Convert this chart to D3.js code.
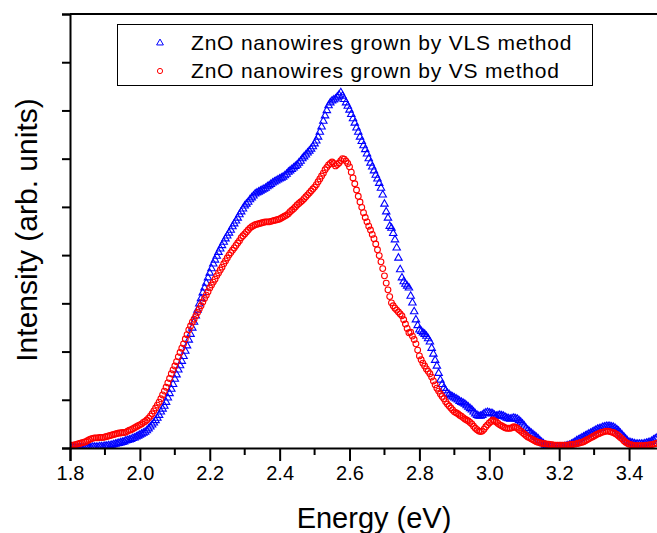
<!DOCTYPE html>
<html>
<head>
<meta charset="utf-8">
<script src="https://cdn.jsdelivr.net/npm/d3@7/dist/d3.min.js"></script>
<style>
  html, body { margin: 0; padding: 0; background: #fff; }
  svg { display: block; }
  text { font-family: "Liberation Sans", Arial, sans-serif; fill: #000; }
</style>
</head>
<body>
<svg id="chart" width="657" height="533"></svg>
<script>
// Photon energy grid (eV), 0.005 eV steps from 1.800 to 3.480
const energy = d3.range(337).map(i => +(1.80 + i * 0.005).toFixed(3));

// PL intensity (arb. units), ZnO nanowires grown by VLS
const vlsIntensity = [
  0.00, 0.00, 0.00, 0.00, 0.00, 0.00, 0.00, 0.00, 0.00, 0.01,
  0.01, 0.01, 0.01, 0.02, 0.02, 0.02, 0.02, 0.03, 0.03, 0.03,
  0.04, 0.04, 0.05, 0.05, 0.06, 0.07, 0.08, 0.09, 0.10, 0.11,
  0.12, 0.13, 0.15, 0.16, 0.17, 0.18, 0.20, 0.21, 0.23, 0.25,
  0.27, 0.29, 0.31, 0.33, 0.36, 0.40, 0.44, 0.48, 0.52, 0.57,
  0.62, 0.68, 0.75, 0.81, 0.87, 0.95, 1.04, 1.13, 1.22, 1.32,
  1.43, 1.52, 1.62, 1.71, 1.80, 1.90, 2.01, 2.12, 2.24, 2.36,
  2.49, 2.61, 2.74, 2.86, 2.99, 3.10, 3.22, 3.32, 3.42, 3.53,
  3.63, 3.72, 3.82, 3.90, 3.98, 4.06, 4.13, 4.20, 4.27, 4.34,
  4.40, 4.46, 4.52, 4.59, 4.65, 4.71, 4.77, 4.84, 4.90, 4.96,
  5.02, 5.06, 5.10, 5.15, 5.19, 5.23, 5.27, 5.29, 5.31, 5.33,
  5.35, 5.37, 5.39, 5.42, 5.44, 5.47, 5.50, 5.52, 5.54, 5.56,
  5.58, 5.60, 5.62, 5.65, 5.68, 5.72, 5.75, 5.78, 5.81, 5.84,
  5.87, 5.91, 5.95, 6.00, 6.04, 6.08, 6.12, 6.16, 6.20, 6.25,
  6.31, 6.37, 6.45, 6.55, 6.66, 6.78, 6.89, 7.00, 7.10, 7.16,
  7.20, 7.22, 7.24, 7.28, 7.32, 7.37, 7.30, 7.23, 7.16, 7.09,
  7.01, 6.92, 6.83, 6.74, 6.64, 6.55, 6.45, 6.36, 6.27, 6.19,
  6.10, 6.00, 5.91, 5.83, 5.75, 5.66, 5.58, 5.49, 5.39, 5.25,
  5.06, 4.90, 4.77, 4.60, 4.56, 4.45, 4.32, 4.15, 3.94, 3.70,
  3.53, 3.45, 3.40, 3.36, 3.32, 3.15, 3.01, 2.83, 2.66, 2.54,
  2.45, 2.42, 2.39, 2.36, 2.32, 2.27, 2.20, 2.07, 1.95, 1.82,
  1.70, 1.55, 1.41, 1.32, 1.24, 1.19, 1.14, 1.11, 1.08, 1.06,
  1.04, 1.02, 1.00, 0.97, 0.95, 0.93, 0.91, 0.88, 0.85, 0.82,
  0.79, 0.75, 0.71, 0.68, 0.66, 0.66, 0.68, 0.71, 0.73, 0.74,
  0.73, 0.72, 0.71, 0.68, 0.66, 0.67, 0.68, 0.67, 0.66, 0.64,
  0.62, 0.61, 0.60, 0.61, 0.62, 0.61, 0.60, 0.57, 0.54, 0.50,
  0.46, 0.41, 0.37, 0.34, 0.31, 0.28, 0.25, 0.22, 0.19, 0.15,
  0.12, 0.09, 0.06, 0.04, 0.02, 0.02, 0.02, 0.02, 0.02, 0.02,
  0.02, 0.02, 0.02, 0.03, 0.04, 0.05, 0.06, 0.08, 0.10, 0.12,
  0.15, 0.17, 0.19, 0.21, 0.23, 0.25, 0.27, 0.29, 0.31, 0.33,
  0.35, 0.37, 0.39, 0.40, 0.41, 0.43, 0.44, 0.45, 0.45, 0.45,
  0.44, 0.43, 0.41, 0.38, 0.35, 0.31, 0.27, 0.23, 0.19, 0.15,
  0.12, 0.11, 0.10, 0.09, 0.08, 0.08, 0.08, 0.08, 0.08, 0.09,
  0.10, 0.11, 0.12, 0.14, 0.17, 0.19, 0.21
];

// PL intensity (arb. units), ZnO nanowires grown by VS
const vsIntensity = [
  0.06, 0.06, 0.06, 0.07, 0.08, 0.09, 0.10, 0.11, 0.12, 0.13,
  0.15, 0.17, 0.19, 0.20, 0.21, 0.21, 0.21, 0.22, 0.22, 0.22,
  0.23, 0.24, 0.25, 0.26, 0.27, 0.28, 0.29, 0.30, 0.31, 0.31,
  0.32, 0.32, 0.33, 0.35, 0.37, 0.38, 0.40, 0.42, 0.44, 0.46,
  0.48, 0.50, 0.53, 0.55, 0.58, 0.62, 0.66, 0.71, 0.77, 0.83,
  0.89, 0.95, 1.02, 1.10, 1.18, 1.26, 1.35, 1.44, 1.54, 1.62,
  1.70, 1.79, 1.89, 1.98, 2.07, 2.16, 2.26, 2.35, 2.45, 2.53,
  2.61, 2.67, 2.74, 2.81, 2.88, 2.95, 3.03, 3.10, 3.17, 3.24,
  3.32, 3.38, 3.44, 3.50, 3.57, 3.63, 3.69, 3.75, 3.82, 3.88,
  3.94, 4.00, 4.05, 4.10, 4.15, 4.20, 4.25, 4.30, 4.36, 4.40,
  4.44, 4.48, 4.52, 4.56, 4.59, 4.61, 4.63, 4.64, 4.65, 4.66,
  4.67, 4.68, 4.69, 4.69, 4.69, 4.70, 4.71, 4.72, 4.73, 4.74,
  4.75, 4.77, 4.79, 4.81, 4.83, 4.86, 4.90, 4.93, 4.96, 5.00,
  5.04, 5.07, 5.10, 5.13, 5.17, 5.21, 5.25, 5.29, 5.33, 5.37,
  5.41, 5.46, 5.52, 5.58, 5.64, 5.70, 5.77, 5.82, 5.87, 5.90,
  5.93, 5.90, 5.85, 5.88, 5.91, 5.96, 6.00, 5.99, 5.95, 5.90,
  5.83, 5.72, 5.60, 5.48, 5.35, 5.22, 5.10, 4.99, 4.88, 4.78,
  4.69, 4.60, 4.52, 4.43, 4.34, 4.23, 4.11, 3.99, 3.86, 3.72,
  3.57, 3.42, 3.28, 3.14, 3.01, 2.95, 2.90, 2.86, 2.82, 2.78,
  2.74, 2.66, 2.57, 2.48, 2.39, 2.40, 2.32, 2.25, 2.16, 2.03,
  1.91, 1.83, 1.76, 1.70, 1.64, 1.59, 1.54, 1.47, 1.39, 1.31,
  1.24, 1.18, 1.12, 1.07, 1.02, 0.96, 0.91, 0.87, 0.83, 0.79,
  0.75, 0.73, 0.71, 0.68, 0.66, 0.63, 0.60, 0.58, 0.56, 0.53,
  0.50, 0.45, 0.41, 0.38, 0.35, 0.34, 0.35, 0.39, 0.44, 0.48,
  0.52, 0.55, 0.58, 0.56, 0.54, 0.51, 0.48, 0.46, 0.44, 0.42,
  0.41, 0.41, 0.41, 0.42, 0.44, 0.43, 0.41, 0.38, 0.35, 0.32,
  0.29, 0.26, 0.23, 0.21, 0.19, 0.17, 0.15, 0.13, 0.12, 0.11,
  0.10, 0.09, 0.09, 0.08, 0.08, 0.07, 0.07, 0.06, 0.06, 0.06,
  0.06, 0.06, 0.06, 0.06, 0.06, 0.06, 0.07, 0.07, 0.08, 0.08,
  0.09, 0.10, 0.11, 0.12, 0.13, 0.15, 0.17, 0.19, 0.21, 0.23,
  0.25, 0.27, 0.29, 0.30, 0.32, 0.33, 0.34, 0.35, 0.35, 0.34,
  0.33, 0.32, 0.30, 0.28, 0.25, 0.22, 0.19, 0.15, 0.12, 0.10,
  0.08, 0.07, 0.06, 0.05, 0.05, 0.05, 0.05, 0.05, 0.05, 0.05,
  0.06, 0.06, 0.07, 0.07, 0.08, 0.09, 0.10
];

const xTickValues = [1.8, 2.0, 2.2, 2.4, 2.6, 2.8, 3.0, 3.2, 3.4];
const xMinorTicks = d3.range(19).map(i => +(1.8 + i * 0.1).toFixed(1));
const yTickValues = d3.range(10);

const legendLabels = [
  "ZnO nanowires grown by VLS method",
  "ZnO nanowires grown by VS method"
];

const svg = d3.select("#chart");
const plot = { left: 70, top: 14, bottom: 448, right: 664 };

const x = d3.scaleLinear().domain([1.8, 3.5]).range([plot.left, plot.right]);
const y = d3.scaleLinear().domain([0, 9]).range([plot.bottom, plot.top]);

const vls = energy.map((e, i) => ({ e, v: vlsIntensity[i] }));
const vs = energy.map((e, i) => ({ e, v: vsIntensity[i] }));

const clipId = "plot-clip";
svg.append("clipPath").attr("id", clipId)
  .append("rect")
  .attr("x", plot.left).attr("y", plot.top - 5)
  .attr("width", plot.right - plot.left).attr("height", plot.bottom - plot.top + 5);

const marks = svg.append("g").attr("clip-path", `url(#${clipId})`);

const tri = d3.symbol().type(d3.symbolTriangle).size(24);

// VLS series: open blue triangles
marks.append("g").selectAll("path").data(vls).join("path")
  .attr("d", tri)
  .attr("transform", d => `translate(${x(d.e)},${y(d.v)})`)
  .attr("fill", "none").attr("stroke", "#0000ff").attr("stroke-width", 1.1);

// VS series: open red circles, drawn on top
marks.append("g").selectAll("circle").data(vs).join("circle")
  .attr("cx", d => x(d.e)).attr("cy", d => y(d.v)).attr("r", 2.9)
  .attr("fill", "none").attr("stroke", "#ff0000").attr("stroke-width", 1.1);

// Bottom axis: major ticks with labels, minor ticks between
const xAxis = svg.append("g").attr("transform", `translate(0,${plot.bottom})`)
  .call(d3.axisBottom(x).tickValues(xTickValues).tickSize(13).tickPadding(5)
    .tickFormat(d3.format(".1f")));
xAxis.select(".domain").attr("stroke-width", 2).attr("stroke", "#000");
xAxis.selectAll(".tick line").attr("stroke-width", 2).attr("stroke", "#000");
xAxis.selectAll(".tick text").attr("font-size", 20)
  .attr("font-family", "Liberation Sans, Arial, sans-serif").attr("fill", "#000");

svg.append("g").attr("transform", `translate(0,${plot.bottom})`)
  .selectAll("line").data(xMinorTicks.filter(v => !xTickValues.includes(v))).join("line")
  .attr("x1", d => x(d)).attr("x2", d => x(d)).attr("y1", 0).attr("y2", 7)
  .attr("stroke", "#000").attr("stroke-width", 2);

// Left axis: unlabeled ticks
const yAxis = svg.append("g").attr("transform", `translate(${plot.left},0)`)
  .call(d3.axisLeft(y).tickValues(yTickValues).tickSize(8).tickFormat(""));
yAxis.select(".domain").attr("stroke-width", 2).attr("stroke", "#000");
yAxis.selectAll(".tick line").attr("stroke-width", 2).attr("stroke", "#000");

// Top frame line
svg.append("line")
  .attr("x1", plot.left).attr("x2", plot.right)
  .attr("y1", plot.top).attr("y2", plot.top)
  .attr("stroke", "#000").attr("stroke-width", 2);

// Axis titles
svg.append("text")
  .attr("x", 374).attr("y", 528)
  .attr("text-anchor", "middle").attr("font-size", 29)
  .text("Energy (eV)");

svg.append("text")
  .attr("transform", "translate(37,230) rotate(-90)")
  .attr("text-anchor", "middle").attr("font-size", 30)
  .text("Intensity (arb. units)");

// Legend
const legend = svg.append("g");
legend.append("rect")
  .attr("x", 117.5).attr("y", 24.5).attr("width", 475).attr("height", 61)
  .attr("fill", "#fff").attr("stroke", "#000").attr("stroke-width", 1);

legend.append("path")
  .attr("d", d3.symbol().type(d3.symbolTriangle).size(20))
  .attr("transform", "translate(160,43)")
  .attr("fill", "none").attr("stroke", "#0000ff").attr("stroke-width", 1);
legend.append("circle")
  .attr("cx", 160).attr("cy", 71).attr("r", 2.6)
  .attr("fill", "none").attr("stroke", "#ff0000").attr("stroke-width", 1);

legend.selectAll("text.lg").data(legendLabels).join("text")
  .attr("class", "lg")
  .attr("x", 191).attr("y", (d, i) => 50 + i * 28)
  .attr("font-size", 21).attr("letter-spacing", 0.8)
  .text(d => d);
</script>
</body>
</html>
